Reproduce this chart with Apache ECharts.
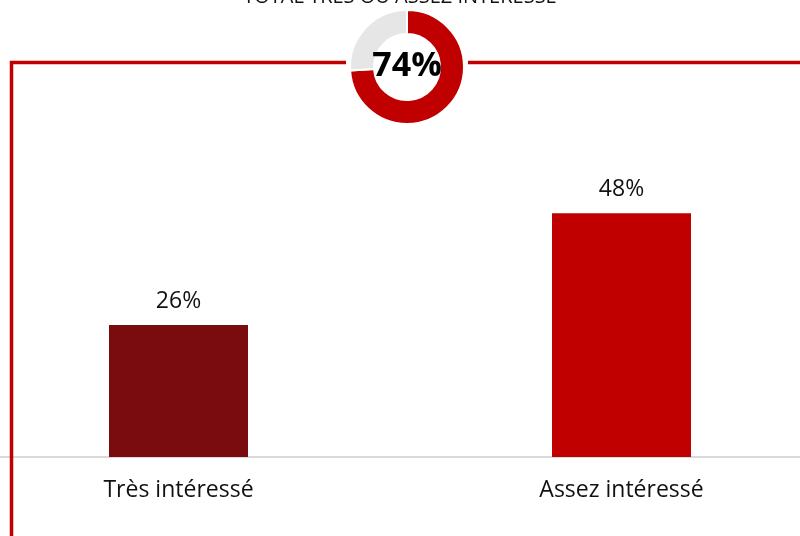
<!DOCTYPE html>
<html>
<head>
<meta charset="utf-8">
<script src="https://cdn.jsdelivr.net/npm/echarts@6/dist/echarts.min.js"></script>
<style>
  html, body { margin: 0; padding: 0; background: #fff; }
  #chart { width: 800px; height: 536px; }
</style>
</head>
<body>
<div id="chart"></div>
<script>
  // chart data
  const categories = ['Très intéressé', 'Assez intéressé']
  const values = [26, 48]
  const barColors = ['#7a0c10', '#c00000']
  const donutNames = ['Total', 'Autres']
  const donutValues = [74, 26]
  const totalLabel = '74%'
  const titleText = 'TOTAL TRÈS OU ASSEZ INTÉRESSÉ'

  const red = '#c00000'
  const font = '"Open Sans", sans-serif'

  const chart = echarts.init(document.getElementById('chart'))

  chart.setOption({
    animation: false,
    textStyle: { fontFamily: font },
    title: {
      text: titleText,
      left: 'center',
      top: -13,
      padding: 0,
      textStyle: { fontSize: 20, fontWeight: 'normal', color: '#111', fontFamily: font }
    },
    grid: {
      left: -43,
      right: -43,
      top: 152.4,
      bottom: 79,
      containLabel: false,
      outerBoundsMode: 'none'
    },
    xAxis: {
      type: 'category',
      data: categories,
      axisLine: { lineStyle: { color: '#d9d9d9', width: 2 } },
      axisTick: { show: false },
      axisLabel: { fontSize: 23, color: '#111', margin: 22, fontFamily: font }
    },
    yAxis: {
      type: 'value',
      min: 0,
      max: 60,
      show: false,
      splitLine: { show: false }
    },
    graphic: [
      {
        type: 'polyline',
        shape: { points: [[11.5, 536], [11.5, 62.5], [346, 62.5]] },
        style: { stroke: red, lineWidth: 3.5, fill: null },
        z: 1
      },
      {
        type: 'line',
        shape: { x1: 468, y1: 62.5, x2: 800, y2: 62.5 },
        style: { stroke: red, lineWidth: 3.5 },
        z: 1
      },
      {
        type: 'text',
        x: 407,
        y: 66,
        style: {
          text: totalLabel,
          fontSize: 34,
          fontWeight: 'bold',
          fontFamily: font,
          fill: '#000',
          align: 'center',
          verticalAlign: 'middle'
        },
        z: 100
      }
    ],
    series: [
      {
        type: 'bar',
        barWidth: 139,
        data: values.map((v, i) => ({ value: v, itemStyle: { color: barColors[i] } })),
        label: {
          show: true,
          position: 'top',
          distance: 12,
          formatter: '{c}%',
          fontSize: 23,
          color: '#111',
          fontFamily: font
        }
      },
      {
        type: 'pie',
        center: [407, 67],
        radius: [33, 57],
        startAngle: 90,
        clockwise: true,
        label: { show: false },
        labelLine: { show: false },
        silent: true,
        z: 10,
        itemStyle: { borderColor: '#fff', borderWidth: 2 },
        data: donutValues.map((v, i) => ({
          name: donutNames[i],
          value: v,
          itemStyle: { color: i === 0 ? red : '#e6e6e6' }
        }))
      }
    ]
  })
</script>
</body>
</html>
